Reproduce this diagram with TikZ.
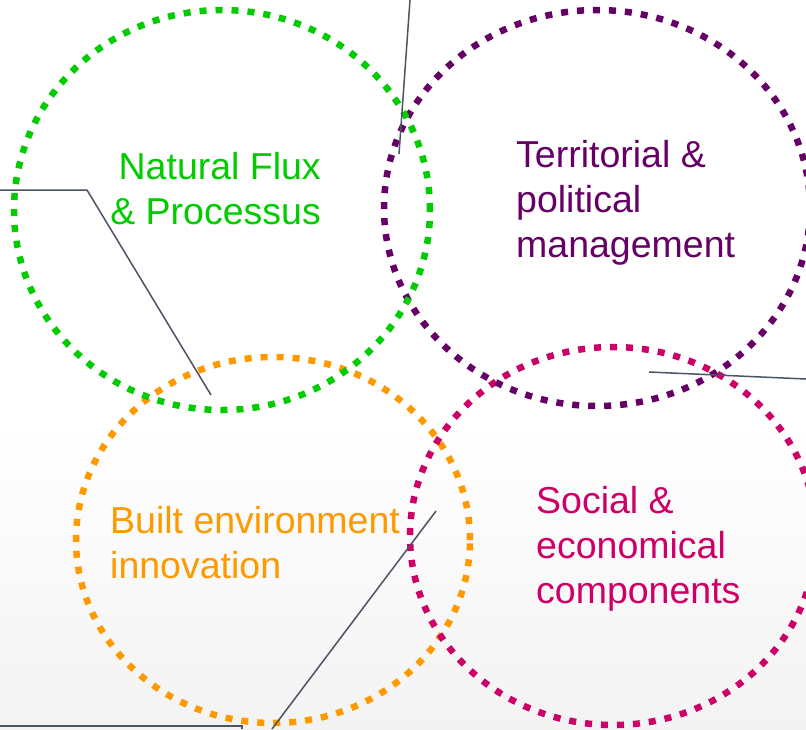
\documentclass[tikz,border=0pt]{standalone}
\usepackage{fontspec}
\setmainfont{Liberation Sans}
\usetikzlibrary{shapes.geometric}

\definecolor{fluxgreen}{RGB}{0,204,0}
\definecolor{politicpurple}{RGB}{102,0,102}
\definecolor{builtorange}{RGB}{255,153,0}
\definecolor{socialmagenta}{RGB}{204,0,102}
\definecolor{leadergray}{RGB}{74,84,99}
\definecolor{bggray}{RGB}{243,243,243}

\tikzset{
  ring/.style={ellipse, draw=#1, line width=6.5pt, inner sep=0pt,
    dash pattern=on 7pt off 9pt},
  label/.style={text=#1, inner sep=0pt,
    font=\fontsize{37.5}{45}\selectfont},
  leader/.style={draw=leadergray, line width=1.5pt}
}

\begin{document}
\begin{tikzpicture}[x=1pt,y=-1pt]
  \useasboundingbox (0,0) rectangle (806,729);
  \fill[white] (0,0) rectangle (806,729);
  \shade[top color=white, bottom color=bggray] (0,420) rectangle (806,729);

  \node[ring=builtorange, minimum width=394pt, minimum height=366pt] (built) at (273,540) {};
  \node[ring=socialmagenta, minimum width=406pt, minimum height=378pt] (social) at (613,536) {};
  \node[ring=politicpurple, minimum width=426pt, minimum height=396pt] (territorial) at (597,208) {};
  \node[ring=fluxgreen, minimum width=416pt, minimum height=400pt] (natural) at (222,210) {};

  \node[label=fluxgreen, align=right, anchor=base east] (naturaltxt) at (321,224)
    {Natural Flux\\\& Processus};
  \node[label=politicpurple, align=left, anchor=base west] (territorialtxt) at (516,257)
    {Territorial \&\\political\\management};
  \node[label=builtorange, align=left, anchor=base west] (builttxt) at (110,578)
    {Built environment\\innovation};
  \node[label=socialmagenta, align=left, anchor=base west] (socialtxt) at (536,603)
    {Social \&\\economical\\components};

  % leader lines
  \coordinate (la0) at (0,190);
  \coordinate (la1) at (87,190);
  \coordinate (la2) at (211,395);
  \coordinate (lb0) at (410,0);
  \coordinate (lb1) at (399,154);
  \coordinate (lc0) at (649,372);
  \coordinate (lc1) at (806,379);
  \coordinate (ld0) at (436,511);
  \coordinate (ld1) at (272,729);
  \coordinate (le0) at (0,726);
  \coordinate (le1) at (242,726);
  \coordinate (le2) at (242,729);
  \draw[leader] (la0) -- (la1) -- (la2);
  \draw[leader] (lb0) -- (lb1);
  \draw[leader] (lc0) -- (lc1);
  \draw[leader] (ld0) -- (ld1);
  \draw[leader] (le0) -- (le1) -- (le2);
\end{tikzpicture}
\end{document}
